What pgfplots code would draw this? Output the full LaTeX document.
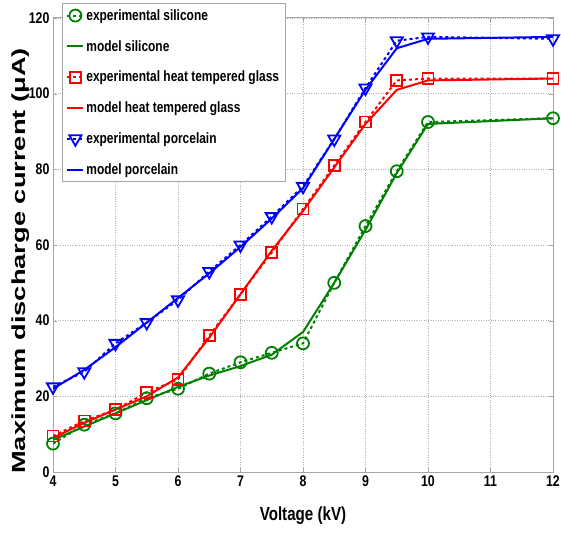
\documentclass[border=0pt]{standalone}
\usepackage{fontspec}
\setmainfont{Liberation Sans}[FakeStretch=0.8]
\newfontfamily\ylabfont{Liberation Sans}[FakeStretch=1.44]
\usepackage{pgfplots}
\pgfplotsset{compat=1.18}
\definecolor{mgreen}{rgb}{0,0.5,0}
\begin{document}
\begin{tikzpicture}
\begin{axis}[
  scale only axis, width=500bp, height=454bp,
  xmin=4, xmax=12, ymin=0, ymax=120,
  xtick={4,5,...,12}, ytick={0,20,...,120},
  grid=major, major grid style={gray!60, dotted, line width=0.8pt},
  axis line style={gray!70, line width=1pt},
  tick style={gray!70},
  tick align=inside,
  /pgf/number format/assume math mode=true,
  ticklabel style={font=\fontsize{15.5}{16}\selectfont\bfseries},
  xlabel={Voltage (kV)},
  xlabel style={font=\fontsize{19}{21}\selectfont\bfseries, yshift=-13bp},
  ylabel={\ylabfont Maximum discharge current (μA)},
  ylabel style={font=\fontsize{19}{21}\selectfont\bfseries, yshift=-7bp, at={(ticklabel cs:0.465)}},
  legend style={at={(0.018,1.033)}, anchor=north west, draw=gray!70, line width=0.8pt,
    font=\fontsize{15}{16}\selectfont\bfseries, row sep=14.5bp, inner sep=4bp,
    cells={anchor=west}},
  legend image code/.code={\draw[#1] (0bp,0bp) -- (16bp,0bp); \draw[#1, solid] plot coordinates {(8bp,0bp)};},
  every axis plot/.append style={line width=2pt},
]
\addplot[mgreen, dashed, mark=o, mark size=6pt, mark options={solid, line width=1.8pt}] coordinates {(4,7.5)(4.5,12.5)(5,15.5)(5.5,19.5)(6,22)(6.5,26)(7,29)(7.5,31.5)(8,34)(8.5,50)(9,65)(9.5,79.5)(10,92.5)(12,93.5)};
\addlegendentry{experimental silicone}
\addplot[mgreen, no marks] coordinates {(4,8.5)(4.5,12)(5,15.5)(5.5,19)(6,22.5)(6.5,25.5)(7,28)(7.5,31)(8,37)(8.5,50)(9,64)(9.5,79)(10,92)(12,93.5)};
\addlegendentry{model silicone}
\addplot[red, dashed, mark=square, mark size=5.5pt, mark options={solid, line width=1.8pt}] coordinates {(4,9.5)(4.5,13.5)(5,16.5)(5.5,21)(6,24.5)(6.5,36)(7,47)(7.5,58)(8,69.5)(8.5,81)(9,92.5)(9.5,103.5)(10,104)(12,104)};
\addlegendentry{experimental heat tempered glass}
\addplot[red, no marks] coordinates {(4,9)(4.5,13)(5,16.5)(5.5,20)(6,25)(6.5,35.5)(7,47)(7.5,58.5)(8,69)(8.5,80.5)(9,92)(9.5,101)(10,103.5)(12,104)};
\addlegendentry{model heat tempered glass}
\addplot[blue, dashed, mark=triangle, mark size=7pt, mark options={solid, line width=1.8pt, rotate=180}] coordinates {(4,22.5)(4.5,26.5)(5,34)(5.5,39.5)(6,45.5)(6.5,53)(7,60)(7.5,67.5)(8,75.5)(8.5,88)(9,101.5)(9.5,114)(10,115)(12,114.5)};
\addlegendentry{experimental porcelain}
\addplot[blue, no marks] coordinates {(4,22)(4.5,27)(5,33)(5.5,39.5)(6,46)(6.5,52.5)(7,59.5)(7.5,67)(8,75)(8.5,88)(9,101)(9.5,112)(10,114.5)(12,115)};
\addlegendentry{model porcelain}
\end{axis}
\pgfresetboundingbox
\path (current axis.south west) ++(-53bp,-63bp) rectangle ++(561bp,535bp);
\end{tikzpicture}
\end{document}
